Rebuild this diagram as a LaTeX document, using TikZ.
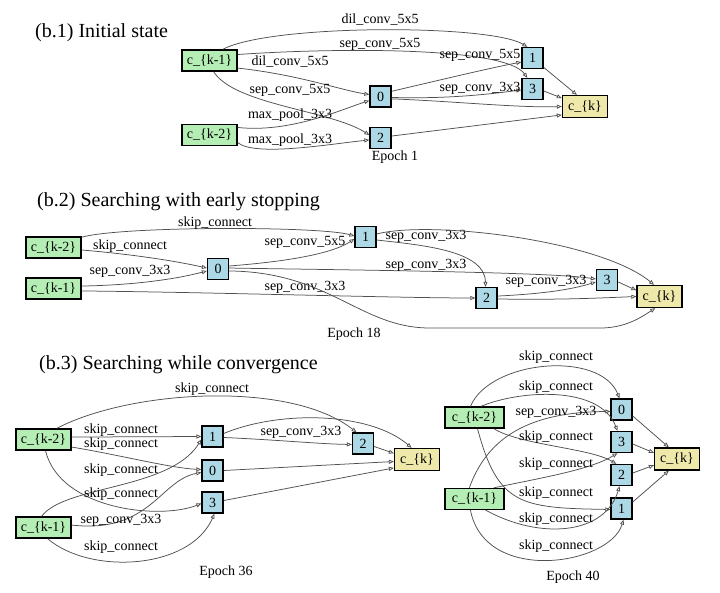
\documentclass[tikz,border=0pt]{standalone}
\usepackage{fontspec}
\setmainfont{Liberation Serif}
\usetikzlibrary{arrows.meta}
\definecolor{ingreen}{HTML}{B4EEB4}
\definecolor{midblue}{HTML}{ADD8E6}
\definecolor{outyellow}{HTML}{EEE8AA}
\definecolor{edgegray}{HTML}{505050}
\begin{document}
\begin{tikzpicture}[x=1pt,y=-1pt,
  boxbase/.style={draw=black,line width=1.3pt,inner sep=0pt,font=\fontsize{14}{16}\selectfont},
  inbox/.style={boxbase,fill=ingreen,minimum width=55pt,minimum height=21pt},
  midbox/.style={boxbase,fill=midblue,minimum width=21pt,minimum height=21pt},
  outbox/.style={boxbase,fill=outyellow,minimum width=45pt,minimum height=22pt},
  lbl/.style={inner sep=0pt,font=\fontsize{14}{16}\selectfont},
  ttl/.style={inner sep=0pt,anchor=west,font=\fontsize{20}{22}\selectfont},
  conn/.style={draw=edgegray,line width=0.75pt,-{Triangle[open,length=5pt,width=4pt]}}
]
\useasboundingbox (0,0) rectangle (720,592);
\fill[white] (0,0) rectangle (720,592);

% ---------------- (b.1) ----------------
\node[ttl] (T1) at (35,33) {(b.1) Initial state};
\node[inbox] (A1k1) at (209.5,60.5) {c\_\{k-1\}};
\node[inbox] (A1k2) at (209.5,135) {c\_\{k-2\}};
\node[midbox] (A10) at (380.5,96.5) {0};
\node[midbox] (A12) at (380.5,138) {2};
\node[midbox] (A11) at (532.5,58) {1};
\node[midbox] (A13) at (532.5,89) {3};
\node[outbox] (A1ck) at (585,106.5) {c\_\{k\}};
\node[lbl] (E1) at (395,157) {Epoch 1};

\draw[conn] (A1k1.40) .. controls (270,24) and (490,24) .. (A11.115);
\node[lbl] (a1l1) at (380,20) {dil\_conv\_5x5};
\draw[conn] (A1k1.12) .. controls (330,48) and (505,46) .. (A13.115);
\node[lbl] (a1l2) at (380,44) {sep\_conv\_5x5};
\draw[conn] (A1k1.-15) .. controls (300,75) and (340,90) .. (A10.170);
\node[lbl] (a1l3) at (290,62) {dil\_conv\_5x5};
\draw[conn] (A1k1.-70) .. controls (235,105) and (330,110) .. (A12.165);
\node[lbl] (a1l4) at (290,90) {sep\_conv\_5x5};
\draw[conn] (A1k2.15) .. controls (290,133) and (340,110) .. (A10.200);
\node[lbl] (a1l5) at (290,115) {max\_pool\_3x3};
\draw[conn] (A1k2.-15) .. controls (255,157) and (330,144) .. (A12.190);
\node[lbl] (a1l6) at (290,140) {max\_pool\_3x3};
\draw[conn] (A10.25) .. controls (440,80) and (490,68) .. (A11.200);
\node[lbl] (a1l7) at (480,55) {sep\_conv\_5x5};
\draw[conn] (A10.-5) .. controls (450,99) and (490,94) .. (A13.185);
\node[lbl] (a1l8) at (480,88) {sep\_conv\_3x3};
\draw[conn] (A10.-12) .. controls (450,101) and (520,108) .. (A1ck.west);
\draw[conn] (A12.10) -- (A1ck.200);
\draw[conn] (A11.-40) -- (A1ck.125);
\draw[conn] (A13.-10) -- (A1ck.160);

% ---------------- (b.2) ----------------
\node[ttl] (T2) at (37,202) {(b.2) Searching with early stopping};
\node[inbox] (B2k2) at (53.5,247.5) {c\_\{k-2\}};
\node[inbox] (B2k1) at (53.5,288.5) {c\_\{k-1\}};
\node[midbox] (B20) at (218,269) {0};
\node[midbox] (B21) at (365.5,237) {1};
\node[midbox] (B22) at (486.5,298) {2};
\node[midbox] (B23) at (607,280) {3};
\node[outbox] (B2ck) at (659.5,296.5) {c\_\{k\}};
\node[lbl] (E2) at (354,334) {Epoch 18};

\draw[conn] (B2k2.20) .. controls (120,226) and (320,226) .. (B21.175);
\node[lbl] (b2l1) at (215,223) {skip\_connect};
\draw[conn] (B2k2.-5) .. controls (140,255) and (180,262) .. (B20.175);
\node[lbl] (b2l2) at (130,246) {skip\_connect};
\draw[conn] (B2k1.5) .. controls (140,285) and (180,278) .. (B20.190);
\node[lbl] (b2l3) at (130,271) {sep\_conv\_3x3};
\draw[conn] (B20.15) .. controls (280,262) and (330,255) .. (B21.190);
\node[lbl] (b2l4) at (305,242) {sep\_conv\_5x5};
\draw[conn] (B20.5) .. controls (350,270) and (550,272) .. (B23.175);
\node[lbl] (b2l5) at (426,265) {sep\_conv\_3x3};
\draw[conn] (B2k1.-5) .. controls (200,292) and (400,298) .. (B22.west);
\node[lbl] (b2l6) at (305,287) {sep\_conv\_3x3};
\draw[conn] (B20.-10) .. controls (330,272) and (360,328) .. (430,328) -- (600,328) .. controls (625,328) and (640,318) .. (B2ck.-110);
\draw[conn] (B21.-15) .. controls (420,245) and (485,250) .. (B22.95);
\node[lbl] (b2l7) at (426,236) {sep\_conv\_3x3};
\draw[conn] (B21.15) .. controls (430,220) and (600,240) .. (B2ck.115);
\draw[conn] (B22.10) .. controls (540,294) and (570,290) .. (B23.190);
\node[lbl] (b2l8) at (546,281) {sep\_conv\_3x3};
\draw[conn] (B22.-5) .. controls (560,300) and (600,298) .. (B2ck.west);
\draw[conn] (B23.-10) -- (B2ck.165);

% ---------------- (b.3) left ----------------
\node[ttl] (T3) at (39,365) {(b.3) Searching while convergence};
\node[inbox] (C3k2) at (43.5,439.5) {c\_\{k-2\}};
\node[inbox] (C3k1) at (43.5,527.5) {c\_\{k-1\}};
\node[midbox] (C31) at (212.5,436.5) {1};
\node[midbox] (C30) at (212.5,470.5) {0};
\node[midbox] (C33) at (212.5,502.5) {3};
\node[midbox] (C32) at (363,443.5) {2};
\node[outbox] (C3ck) at (417,459.5) {c\_\{k\}};
\node[lbl] (E3) at (226,572) {Epoch 36};

\draw[conn] (C3k2.40) .. controls (130,390) and (290,380) .. (C32.120);
\node[lbl] (c3l1) at (212,389) {skip\_connect};
\draw[conn] (C3k2.5) -- (C31.180);
\node[lbl] (c3l2) at (121,430) {skip\_connect};
\draw[conn] (C3k2.-15) .. controls (120,455) and (170,468) .. (C30.175);
\node[lbl] (c3l3) at (121,444) {skip\_connect};
\draw[conn] (C3k1.100) .. controls (65,485) and (170,490) .. (C31.195);
\node[lbl] (c3l4) at (121,470) {skip\_connect};
\draw[conn] (C3k2.-80) .. controls (60,510) and (160,520) .. (C33.185);
\node[lbl] (c3l5) at (121,494) {skip\_connect};
\draw[conn] (C3k1.5) .. controls (150,534) and (160,480) .. (C30.190);
\node[lbl] (c3l6) at (121,520) {sep\_conv\_3x3};
\draw[conn] (C3k1.-70) .. controls (90,575) and (190,570) .. (C33.-80);
\node[lbl] (c3l7) at (121,547) {skip\_connect};
\draw[conn] (C31.-5) .. controls (280,440) and (320,444) .. (C32.185);
\node[lbl] (c3l8) at (301,432) {sep\_conv\_3x3};
\draw[conn] (C31.15) .. controls (280,410) and (370,412) .. (C3ck.115);
\draw[conn] (C32.-15) -- (C3ck.165);
\draw[conn] (C30.east) -- (C3ck.185);
\draw[conn] (C33.10) -- (C3ck.200);

% ---------------- (b.3) right ----------------
\node[inbox,minimum width=59pt] (D3k2) at (474.5,417.5) {c\_\{k-2\}};
\node[inbox,minimum width=59pt] (D3k1) at (474.5,499) {c\_\{k-1\}};
\node[midbox] (D30) at (621.5,409.5) {0};
\node[midbox] (D33) at (621.5,442) {3};
\node[midbox] (D32) at (621.5,475) {2};
\node[midbox] (D31) at (621.5,508.5) {1};
\node[outbox] (D3ck) at (677,459) {c\_\{k\}};
\node[lbl] (E4) at (573,577) {Epoch 40};

\draw[conn] (D3k2.110) .. controls (490,360) and (600,350) .. (D30.100);
\node[lbl] (d3l1) at (556,357) {skip\_connect};
\draw[conn] (D3k2.60) .. controls (520,390) and (600,385) .. (D33.110);
\node[lbl] (d3l2) at (556,387) {skip\_connect};
\draw[conn] (D3k1.115) .. controls (490,430) and (540,412) .. (D30.190);
\node[lbl] (d3l3) at (556,412) {sep\_conv\_3x3};
\draw[conn] (D3k2.-30) .. controls (520,445) and (590,448) .. (D32.115);
\node[lbl] (d3l4) at (556,437) {skip\_connect};
\draw[conn] (D3k1.30) .. controls (540,478) and (590,470) .. (D33.-110);
\node[lbl] (d3l5) at (556,464) {skip\_connect};
\draw[conn] (D3k2.-75) .. controls (498,505) and (520,508) .. (D31.185);
\node[lbl] (d3l6) at (556,493) {skip\_connect};
\draw[conn] (D3k1.-45) .. controls (540,540) and (605,535) .. (D32.-100);
\node[lbl] (d3l7) at (556,519) {skip\_connect};
\draw[conn] (D3k1.-110) .. controls (485,585) and (610,565) .. (D31.-80);
\node[lbl] (d3l8) at (556,546) {skip\_connect};
\draw[conn] (D30.-30) -- (D3ck.125);
\draw[conn] (D33.-10) -- (D3ck.165);
\draw[conn] (D32.10) -- (D3ck.195);
\draw[conn] (D31.30) -- (D3ck.-125);
\end{tikzpicture}
\end{document}
